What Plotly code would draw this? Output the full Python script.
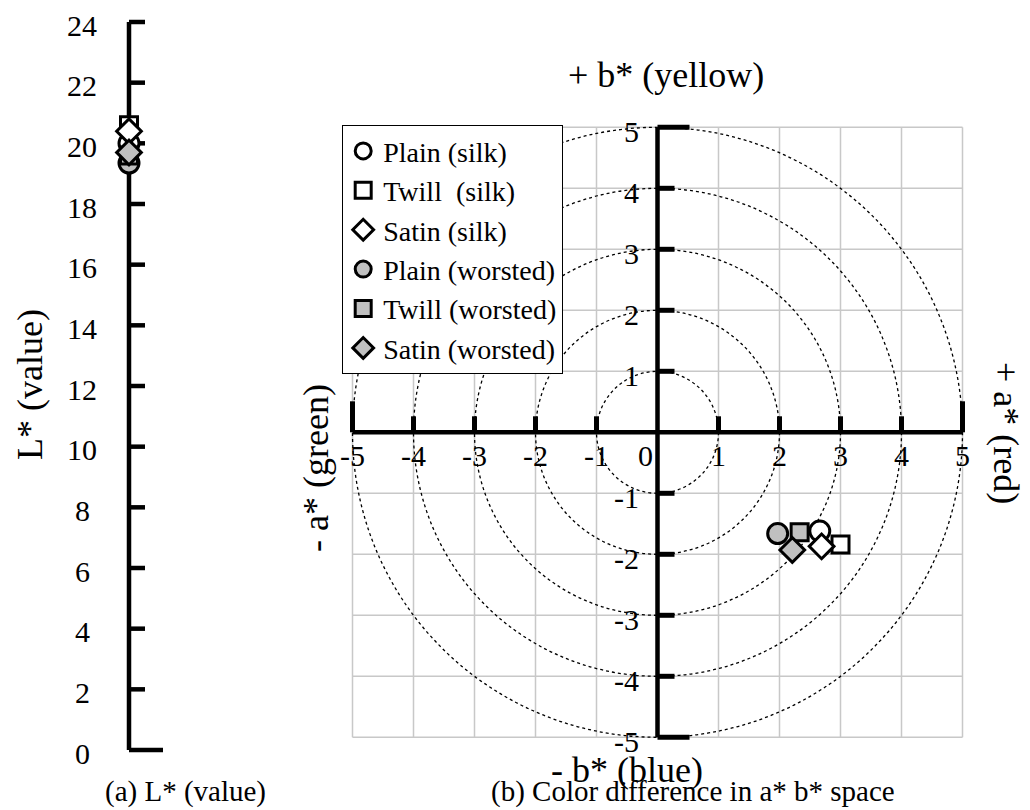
import plotly.graph_objects as go

# ---------------- data ----------------
series_names = ["Plain (silk)", "Twill\u00a0 (silk)", "Satin (silk)",
                "Plain (worsted)", "Twill (worsted)", "Satin (worsted)"]
L_values = [20.0, 20.6, 20.4, 19.35, 19.6, 19.7]
a_values = [2.66, 3.0, 2.69, 1.97, 2.33, 2.21]
b_values = [-1.62, -1.84, -1.87, -1.66, -1.64, -1.93]
L_ticks = list(range(0, 25, 2))
ab_ticks = [-5, -4, -3, -2, -1, 0, 1, 2, 3, 4, 5]
circle_radii = [1, 2, 3, 4, 5]

# ---------------- styles ----------------
symbols = ["circle", "square", "diamond", "circle", "square", "diamond"]
fills = ["white", "white", "white", "#c0c0c0", "#c0c0c0", "#c0c0c0"]
sizes = {"circle": 20, "square": 17, "diamond": 19}
FONT = "Liberation Serif"
W, H = 1030, 810

def px(x):
    return x / W

def py(y):
    return 1 - y / H

# left panel geometry (pixels)
L0_Y, L24_Y, L_AX_X = 750.0, 22.0, 129.0
l_ppu = (L0_Y - L24_Y) / 24.0
left_dom = [0, 309 / W]
x1_range = [-L_AX_X, 309 - L_AX_X]
y1_range = [(L0_Y - H) / l_ppu, L0_Y / l_ppu]

# right panel geometry (pixels)
CX, CY, PPU = 657.5, 432.3, 61.0
x2_range = [(309 - CX) / PPU, (W - CX) / PPU]
y2_range = [(CY - H) / PPU, CY / PPU]

fig = go.Figure()

for i, name in enumerate(series_names):
    common = dict(
        mode="markers", name=name,
        marker=dict(symbol=symbols[i], size=sizes[symbols[i]], color=fills[i],
                    line=dict(color="black", width=3)),
    )
    fig.add_trace(go.Scatter(x=[0], y=[L_values[i]], xaxis="x", yaxis="y",
                             showlegend=False, **common))
    fig.add_trace(go.Scatter(x=[a_values[i]], y=[b_values[i]], xaxis="x2", yaxis="y2",
                             showlegend=True, **common))

shapes = []
# grid lines
for t in ab_ticks:
    shapes.append(dict(type="line", xref="x2", yref="y2", x0=t, x1=t, y0=-5, y1=5,
                       line=dict(color="#c8c8c8", width=1.5), layer="below"))
    shapes.append(dict(type="line", xref="x2", yref="y2", x0=-5, x1=5, y0=t, y1=t,
                       line=dict(color="#c8c8c8", width=1.5), layer="below"))
# dotted circles
for r in circle_radii:
    shapes.append(dict(type="circle", xref="x2", yref="y2", x0=-r, x1=r, y0=-r, y1=r,
                       line=dict(color="black", width=1.3, dash="dot"), layer="below"))
# a*/b* axes
shapes.append(dict(type="line", xref="x2", yref="y2", x0=-5, x1=5, y0=0, y1=0,
                   line=dict(color="black", width=4.5), layer="below"))
shapes.append(dict(type="line", xref="x2", yref="y2", x0=0, x1=0, y0=-5, y1=5,
                   line=dict(color="black", width=4.5), layer="below"))
for t in ab_ticks:
    if t == 0:
        continue
    hl = (31 if abs(t) == 5 else 16) / PPU
    shapes.append(dict(type="line", xref="x2", yref="y2", x0=t, x1=t, y0=0, y1=hl,
                       line=dict(color="black", width=5), layer="below"))
    vl = (32 if abs(t) == 5 else 17) / PPU
    shapes.append(dict(type="line", xref="x2", yref="y2", x0=0, x1=vl, y0=t, y1=t,
                       line=dict(color="black", width=5), layer="below"))
# L* axis
shapes.append(dict(type="line", xref="x", yref="y", x0=0, x1=0, y0=0, y1=24,
                   line=dict(color="black", width=4.5), layer="below"))
for t in L_ticks:
    ln = 34 if t == 0 else 16
    shapes.append(dict(type="line", xref="x", yref="y", x0=0, x1=ln, y0=t, y1=t,
                       line=dict(color="black", width=4.5), layer="below"))

ann = []
TICKF = dict(family=FONT, size=30, color="black")
for t in L_ticks:
    ann.append(dict(xref="x", yref="y", x=82 - L_AX_X, y=t - 3 / l_ppu, text=str(t),
                    showarrow=False, font=TICKF, xanchor="center", yanchor="middle"))
for t in ab_ticks:
    xx = t if t != 0 else -12 / PPU
    ann.append(dict(xref="x2", yref="y2", x=xx, y=-23 / PPU, text=str(t),
                    showarrow=False, font=TICKF, xanchor="center", yanchor="middle"))
    if t != 0:
        ann.append(dict(xref="x2", yref="y2", x=-17 / PPU, y=t - 4 / PPU, text=str(t),
                        showarrow=False, font=TICKF, xanchor="right", yanchor="middle"))

TITLEF = dict(family=FONT, size=36, color="black")
CAPF = dict(family=FONT, size=29, color="black")
ann += [
    dict(xref="paper", yref="paper", x=px(30), y=py(385), text="L* (value)", textangle=-90,
         showarrow=False, font=TITLEF, xanchor="center", yanchor="middle"),
    dict(xref="paper", yref="paper", x=px(666), y=py(75), text="+ b* (yellow)",
         showarrow=False, font=TITLEF, xanchor="center", yanchor="middle"),
    dict(xref="paper", yref="paper", x=px(627), y=py(770), text="- b* (blue)",
         showarrow=False, font=TITLEF, xanchor="center", yanchor="middle"),
    dict(xref="paper", yref="paper", x=px(316), y=py(468), text="- a* (green)", textangle=-90,
         showarrow=False, font=TITLEF, xanchor="center", yanchor="middle"),
    dict(xref="paper", yref="paper", x=px(1006), y=py(433), text="+ a* (red)", textangle=90,
         showarrow=False, font=TITLEF, xanchor="center", yanchor="middle"),
    dict(xref="paper", yref="paper", x=px(185), y=0, text="(a) L* (value)",
         showarrow=False, font=CAPF, xanchor="center", yanchor="bottom"),
    dict(xref="paper", yref="paper", x=px(693), y=0, text="(b) Color difference in a* b* space",
         showarrow=False, font=CAPF, xanchor="center", yanchor="bottom"),
]

hidden = dict(visible=False, showgrid=False, zeroline=False, fixedrange=True)
fig.update_layout(
    width=W, height=H, autosize=False,
    margin=dict(l=0, r=0, t=0, b=0),
    paper_bgcolor="white", plot_bgcolor="white",
    xaxis=dict(domain=left_dom, range=x1_range, **hidden),
    yaxis=dict(domain=[0, 1], range=y1_range, **hidden),
    xaxis2=dict(domain=[309 / W, 1], range=x2_range, anchor="y2", **hidden),
    yaxis2=dict(domain=[0, 1], range=y2_range, anchor="x2", **hidden),
    shapes=shapes, annotations=ann,
    legend=dict(x=px(342), y=py(125), xanchor="left", yanchor="top",
                bgcolor="white", bordercolor="black", borderwidth=1.2,
                font=dict(family=FONT, size=28, color="black"),
                tracegroupgap=0, itemwidth=30),
    showlegend=True,
)

fig.write_html("out.html")
